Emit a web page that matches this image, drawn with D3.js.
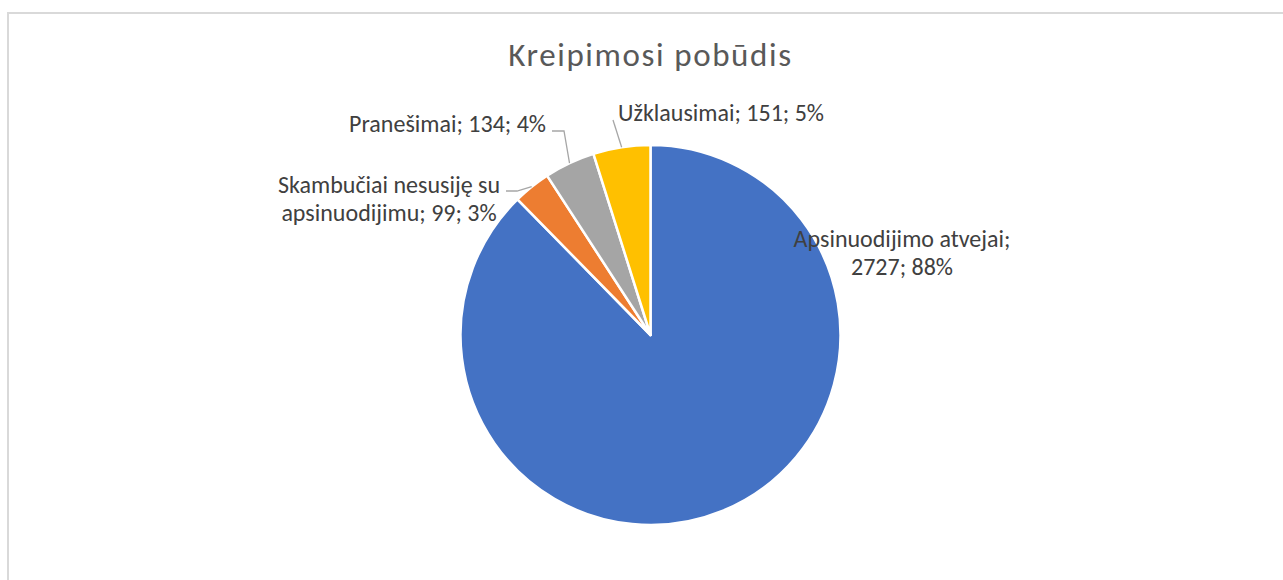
<!DOCTYPE html>
<html>
<head>
<meta charset="utf-8">
<script src="https://cdn.jsdelivr.net/npm/d3@7"></script>
<style>
  body { margin: 0; background: #fff; }
  svg { display: block; }
</style>
</head>
<body>
<div id="chart"></div>
<script>
const title = 'Kreipimosi pobūdis';
const categories = ['Apsinuodijimo atvejai', 'Skambučiai nesusiję su apsinuodijimu', 'Pranešimai', 'Užklausimai'];
const values = [2727, 99, 134, 151];
const percents = ['88%', '3%', '4%', '5%'];
const colors = ['#4472C4', '#ED7D31', '#A5A5A5', '#FFC000'];

// label text lines (as Excel wraps them)
const labelLines = [
    ['Apsinuodijimo atvejai;', '2727; 88%'],
    ['Skambučiai nesusiję su', 'apsinuodijimu; 99; 3%'],
    ['Pranešimai; 134; 4%'],
    ['Užklausimai; 151; 5%']
];

const size = { w: 1283, h: 580 };
const cx = 650.5, cy = 335, radius = 190;
const font = 'Carlito, Calibri, "Open Sans", sans-serif';

// label placement relative to pie centre
const labelPos = [
    { x: 251.5, y: -88, anchor: 'middle' },
    { x: -261.5, y: -142, anchor: 'middle' },
    { x: -104.5, y: -203, anchor: 'end' },
    { x: -32.5, y: -214, anchor: 'start' }
];
// leader line bend points (null = no leader)
const leaders = [
    null,
    [[-133.5, -144], [-144.5, -144]],
    [[-86.5, -204], [-98.5, -204]],
    [[-37.5, -215]]
];

const svg = d3.select('#chart').append('svg')
    .attr('width', size.w)
    .attr('height', size.h);

// chart frame
svg.append('rect')
    .attr('x', 8).attr('y', 13)
    .attr('width', size.w + 20).attr('height', size.h + 20)
    .attr('fill', '#fff')
    .attr('stroke', '#D9D9D9')
    .attr('stroke-width', 2);

svg.append('text')
    .attr('x', cx).attr('y', 66)
    .attr('text-anchor', 'middle')
    .attr('font-family', font)
    .attr('font-size', 33)
    .attr('letter-spacing', 1.6)
    .attr('fill', '#595959')
    .text(title);

const pie = d3.pie().sort(null).value(d => d);
const arcs = pie(values);
const arc = d3.arc().innerRadius(0).outerRadius(radius);
const edge = d3.arc().innerRadius(radius).outerRadius(radius);

const g = svg.append('g').attr('transform', `translate(${cx}, ${cy})`);

g.selectAll('.slice')
    .data(arcs)
    .enter().append('path')
    .attr('class', 'slice')
    .attr('d', arc)
    .attr('fill', (d, i) => colors[i])
    .attr('stroke', '#fff')
    .attr('stroke-width', 2.5)
    .attr('stroke-linejoin', 'round');

const line = d3.line();
g.selectAll('.leader')
    .data(arcs.filter((d, i) => leaders[i]))
    .enter().append('path')
    .attr('class', 'leader')
    .attr('d', d => line([edge.centroid(d)].concat(leaders[d.index])))
    .attr('fill', 'none')
    .attr('stroke', '#A6A6A6')
    .attr('stroke-width', 1.3);

const labels = g.selectAll('.label')
    .data(arcs)
    .enter().append('text')
    .attr('class', 'label')
    .attr('font-family', font)
    .attr('font-size', 24)
    .attr('fill', '#404040')
    .attr('text-anchor', (d, i) => labelPos[i].anchor)
    .attr('transform', (d, i) => `translate(${labelPos[i].x}, ${labelPos[i].y})`);

labels.selectAll('tspan')
    .data((d, i) => labelLines[i])
    .enter().append('tspan')
    .attr('x', 0)
    .attr('y', (d, j) => j * 28)
    .text(d => d);
</script>
</body>
</html>
